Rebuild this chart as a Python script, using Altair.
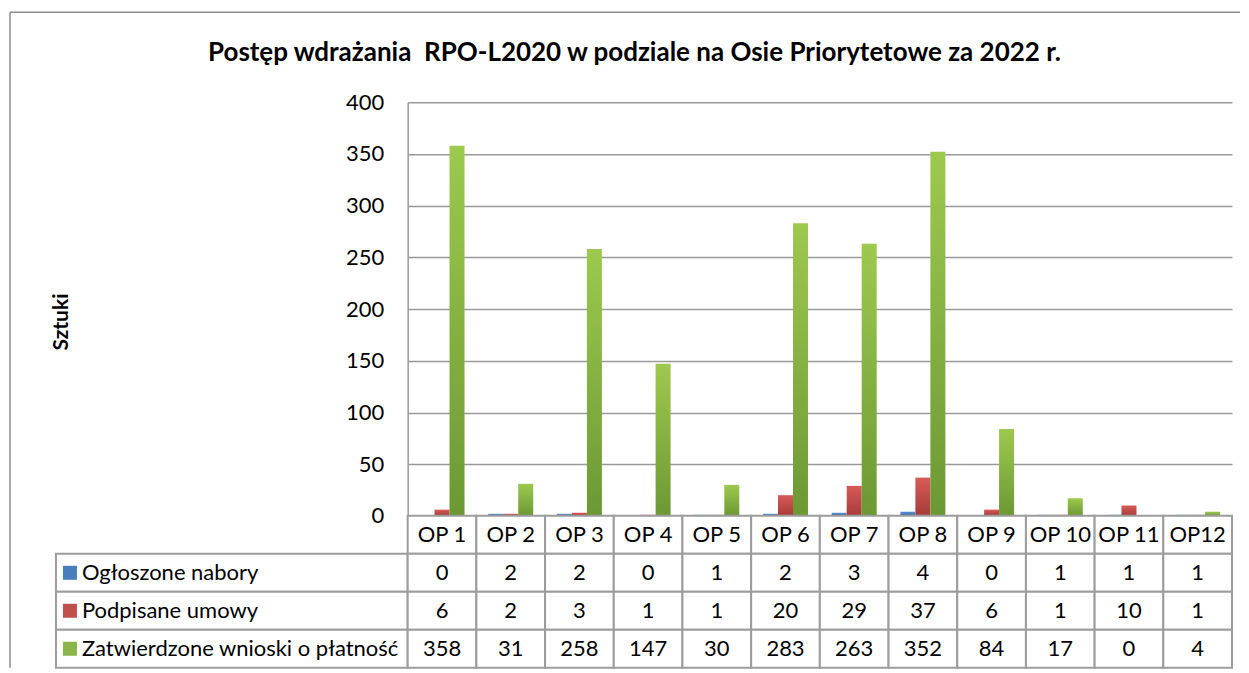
import altair as alt
import pandas as pd

# ---- data ----
categories = ["OP 1", "OP 2", "OP 3", "OP 4", "OP 5", "OP 6", "OP 7", "OP 8", "OP 9", "OP 10", "OP 11", "OP12"]
series = ["Ogłoszone nabory", "Podpisane umowy", "Zatwierdzone wnioski o płatność"]
ogloszone = [0, 2, 2, 0, 1, 2, 3, 4, 0, 1, 1, 1]
podpisane = [6, 2, 3, 1, 1, 20, 29, 37, 6, 1, 10, 1]
zatwierdzone = [358, 31, 258, 147, 30, 283, 263, 352, 84, 17, 0, 4]
y_ticks = [0, 50, 100, 150, 200, 250, 300, 350, 400]
title_text = "Postęp wdrażania\u00a0 RPO-L2020 w podziale na Osie Priorytetowe za 2022 r."
y_title = "Sztuki"
header_key = "hdr"

FONT = "Lato"
GRID = "#9a9a9a"
TABLE_STROKE = "#9c9c9c"
FS = 22

rows = []
for s, vals in zip(series, [ogloszone, podpisane, zatwierdzone]):
    for c, v in zip(categories, vals):
        rows.append({"cat": c, "series": s, "value": v})
df = pd.DataFrame(rows)


def grad(top, bottom):
    return alt.Gradient(
        gradient="linear",
        stops=[alt.GradientStop(color=top, offset=0), alt.GradientStop(color=bottom, offset=1)],
        x1=0, x2=0, y1=0, y2=1,
    )


grads = [grad("#5b8fd1", "#3a6aa8"), grad("#d65b58", "#a63b38"), grad("#9dc94e", "#6c9834")]
square_colors = ["#4a7dbd", "#c0504d", "#8ab54a"]

# ---- top bar chart ----
x_top = alt.X("cat:N", sort=categories, axis=None,
              scale=alt.Scale(paddingInner=0.345, paddingOuter=0.1725))
xoff = alt.XOffset("series:N", sort=series, scale=alt.Scale(paddingInner=0, paddingOuter=0))
y_top = alt.Y(
    "value:Q",
    scale=alt.Scale(domain=[0, 400], nice=False),
    axis=alt.Axis(values=y_ticks, title=None, grid=True, gridColor=GRID, gridWidth=1.5,
                  domainColor=GRID, domainWidth=1.5, ticks=False, labelPadding=24,
                  labelFontSize=FS, labelColor="black", labelFont=FONT),
)

bar_layers = [
    alt.Chart(df).transform_filter(alt.datum.series == s)
    .mark_bar(fill=g).encode(x=x_top, xOffset=xoff, y=y_top)
    for s, g in zip(series, grads)
]

one = pd.DataFrame({"t": [title_text]})
title_layer = alt.Chart(one).mark_text(
    fontSize=26, fontWeight="bold", font=FONT, align="center", baseline="middle", color="black"
).encode(text="t:N", x=alt.value(227), y=alt.value(-49))

ytitle_layer = alt.Chart(pd.DataFrame({"t": [y_title]})).mark_text(
    fontSize=21, fontWeight="bold", font=FONT, align="center", baseline="middle", angle=270, color="black"
).encode(text="t:N", x=alt.value(-346), y=alt.value(220))

frame = pd.DataFrame({"k": [0]})
border_left = alt.Chart(frame).mark_rule(color="#8c8c8c", strokeWidth=1.5).encode(
    x=alt.value(-398), y=alt.value(-90), y2=alt.value(566))
border_top = alt.Chart(frame).mark_rule(color="#8c8c8c", strokeWidth=1.5).encode(
    x=alt.value(-398), x2=alt.value(833), y=alt.value(-90))

top = alt.layer(border_left, border_top, *bar_layers, title_layer, ytitle_layer).properties(
    width=825, height=414)

# ---- data table ----
row_keys = [header_key] + series
trows = [{"cat": c, "row": header_key, "label": c} for c in categories]
for s, vals in zip(series, [ogloszone, podpisane, zatwierdzone]):
    for c, v in zip(categories, vals):
        trows.append({"cat": c, "row": s, "label": str(v)})
tdf = pd.DataFrame(trows)
ldf = pd.DataFrame({"row": series})

x_tab = alt.X("cat:N", sort=categories, axis=None, scale=alt.Scale(paddingInner=0, paddingOuter=0))
y_tab = alt.Y("row:N", sort=row_keys, axis=None, scale=alt.Scale(domain=row_keys, paddingInner=0, paddingOuter=0))

cells = alt.Chart(tdf).mark_rect(fill="white", stroke=TABLE_STROKE, strokeWidth=2).encode(x=x_tab, y=y_tab)
cell_text = alt.Chart(tdf).mark_text(fontSize=FS, font=FONT, color="black", baseline="middle").encode(
    x=x_tab, y=y_tab, text="label:N")

lab_rect = alt.Chart(ldf).mark_rect(fill="white", stroke=TABLE_STROKE, strokeWidth=2).encode(
    x=alt.value(-352), x2=alt.value(0), y=y_tab)
lab_sq = alt.Chart(ldf).mark_square(size=196, filled=True, opacity=1).encode(
    x=alt.value(-338), y=y_tab,
    color=alt.Color("row:N", scale=alt.Scale(domain=series, range=square_colors), legend=None))
lab_text = alt.Chart(ldf).mark_text(fontSize=FS, font=FONT, align="left", baseline="middle", color="black").encode(
    x=alt.value(-326), y=y_tab, text="row:N")

table = alt.layer(lab_rect, cells, lab_sq, cell_text, lab_text).properties(width=825, height=152)

chart = (
    alt.vconcat(top, table, spacing=0, bounds="flush")
    .resolve_scale(x="independent", y="independent", color="independent")
    .properties(padding={"left": 1, "top": 3, "right": 0, "bottom": 0})
    .configure(font=FONT)
    .configure_view(stroke=None)
)

chart.save("out.html", embed_options={"renderer": "svg", "actions": False})
